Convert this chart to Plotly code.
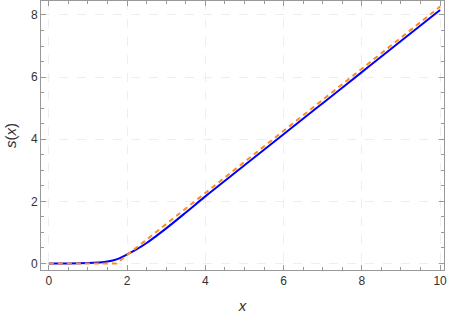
import plotly.graph_objects as go

# Blue solid curve s(x)
x_blue = [0, 0.5, 1.0, 1.25, 1.5, 1.75, 2.0, 2.25, 2.5, 2.75, 3.0, 3.5, 4.0, 5.0, 6.0, 7.0, 8.0, 9.0, 10.0]
s_blue = [0, 0.003, 0.015, 0.03, 0.06, 0.14, 0.29, 0.46, 0.66, 0.89, 1.13, 1.64, 2.16, 3.16, 4.16, 5.16, 6.16, 7.16, 8.16]

# Orange dashed curve
x_orange = [0, 0.5, 1.0, 1.5, 1.73, 2.0, 4.0, 6.0, 8.0, 10.0]
s_orange = [0, 0, 0, 0, 0, 0.27, 2.27, 4.27, 6.27, 8.27]

x_ticks = [0, 2, 4, 6, 8, 10]
y_ticks = [0, 2, 4, 6, 8]

fig = go.Figure()
fig.add_trace(go.Scatter(x=x_blue, y=s_blue, mode="lines", line=dict(color="#0000FF", width=2, shape="spline"),
                         showlegend=False))
fig.add_trace(go.Scatter(x=x_orange, y=s_orange, mode="lines",
                         line=dict(color="#FF8C1A", width=2, dash="5px,4px"), showlegend=False))

axis_common = dict(
    automargin=False,
    showline=True, linecolor="#999999", linewidth=1, mirror="allticks",
    ticks="inside", ticklen=5, tickcolor="#999999", tickwidth=1,
    showgrid=True, gridcolor="#eeeeee", griddash="dash", gridwidth=1,
    zeroline=False, tickfont=dict(family="Liberation Sans, Arial", size=12, color="#333333"),
    minor=dict(dtick=0.5, ticks="inside", ticklen=3, tickcolor="#999999", showgrid=False),
)

fig.update_layout(
    width=449, height=319,
    margin=dict(l=41, r=5, t=1, b=49),
    paper_bgcolor="white", plot_bgcolor="white",
    xaxis=dict(range=[-0.2, 10.1], tickvals=x_ticks, ticktext=[str(v) for v in x_ticks],
               title=dict(text="<i>x</i>", font=dict(family="Liberation Sans, Arial", size=15, color="#333333"), standoff=13),
               **axis_common),
    yaxis=dict(range=[-0.21, 8.45], tickvals=y_ticks, ticktext=[str(v) for v in y_ticks],
               title=dict(text="<i>s</i>(<i>x</i>)", font=dict(family="Liberation Sans, Arial", size=15, color="#333333"), standoff=10),
               **axis_common),
)

fig.write_html("out.html", config={"displayModeBar": False},
               post_script="document.body.style.margin='0px';")
